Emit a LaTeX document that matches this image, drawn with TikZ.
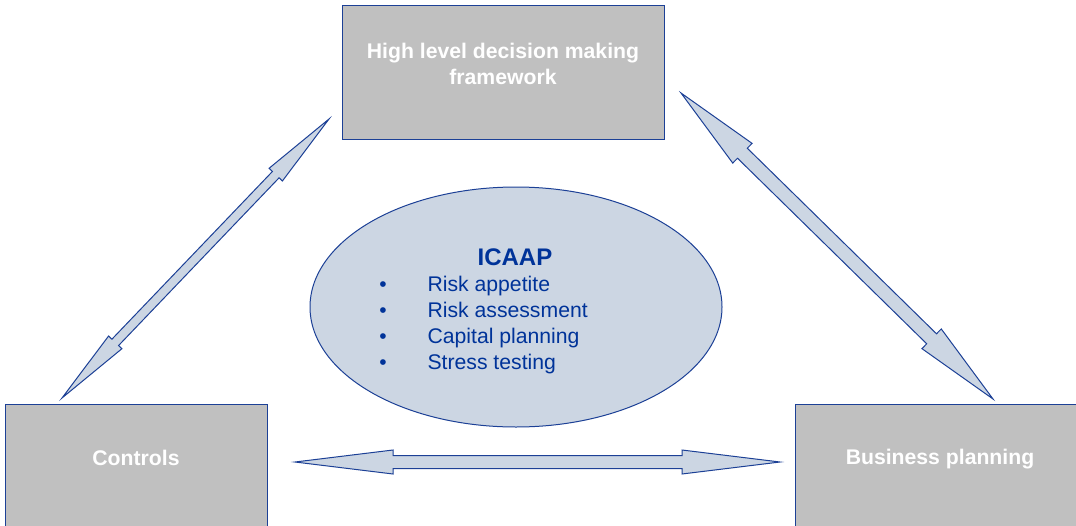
\documentclass[tikz,border=0pt]{standalone}
\usepackage{fontspec}
\setmainfont{Liberation Sans}
\usetikzlibrary{calc,shapes.geometric}
\definecolor{boxgray}{RGB}{192,192,192}
\definecolor{edgeblue}{RGB}{28,64,150}
\definecolor{textblue}{RGB}{0,51,153}
\definecolor{paleblue}{RGB}{204,214,227}
\tikzset{
  box/.style={draw=edgeblue, line width=1pt, fill=boxgray, inner sep=0pt, minimum height=134pt},
  boxtext/.style={text=white, font=\fontsize{21.2}{26}\selectfont\bfseries, align=center},
  listtext/.style={text=textblue, font=\fontsize{21.2}{26}\selectfont, anchor=base west},
  dot/.style={text=textblue, font=\fontsize{21}{26}\selectfont, anchor=base},
  link/.style={draw=edgeblue, fill=paleblue, line width=1pt, line join=miter}
}
% #1,#2 tips, #3 head length, #4 half head width, #5 half shaft width
\newcommand{\fatarrow}[5]{%
  \draw[link] (#1)
    -- ($(#1)!#3!(#2)!#4!90:(#2)$)
    -- ($(#1)!#3!(#2)!#5!90:(#2)$)
    -- ($(#2)!#3!(#1)!#5!-90:(#1)$)
    -- ($(#2)!#3!(#1)!#4!-90:(#1)$)
    -- (#2)
    -- ($(#2)!#3!(#1)!#4!90:(#1)$)
    -- ($(#2)!#3!(#1)!#5!90:(#1)$)
    -- ($(#1)!#3!(#2)!#5!-90:(#2)$)
    -- ($(#1)!#3!(#2)!#4!-90:(#2)$)
    -- cycle;}
\begin{document}
\begin{tikzpicture}[x=1pt, y=-1pt]
\useasboundingbox (0,0) rectangle (1076,525);
\clip (0,0) rectangle (1076,525);

\node[box, minimum width=322pt] (hl) at (503,72) {};
\node[box, minimum width=262pt] (ctl) at (136,471) {};
\node[box, minimum width=290pt] (bp) at (940,471) {};
\node[boxtext] (hlt) at (503,64) {High level decision making\\framework};
\node[boxtext] (ctlt) at (136,458) {Controls};
\node[boxtext] (bpt) at (940,459) {Business planning};

\node[ellipse, draw=edgeblue, line width=1pt, fill=paleblue, minimum width=412pt, minimum height=240pt, inner sep=0pt] (ic) at (516,307) {};
\node[text=textblue, font=\fontsize{24}{28}\selectfont\bfseries, anchor=base] (ict) at (515,265) {ICAAP};
\node[dot] (d1) at (383,291) {•};
\node[dot] (d2) at (383,317) {•};
\node[dot] (d3) at (383,343) {•};
\node[dot] (d4) at (383,369) {•};
\node[listtext] (i1) at (424,291) {Risk appetite};
\node[listtext] (i2) at (424,317) {Risk assessment};
\node[listtext] (i3) at (424,343) {Capital planning};
\node[listtext] (i4) at (424,369) {Stress testing};

\coordinate (l1) at (329,119);
\coordinate (l2) at (62,398);
\coordinate (r1) at (681,93);
\coordinate (r2) at (993,399);
\coordinate (h1) at (295,462);
\coordinate (h2) at (780,462);

\fatarrow{l1}{l2}{77pt}{9.2pt}{4.6pt}
\fatarrow{r1}{r2}{86pt}{13.8pt}{7pt}
\fatarrow{h1}{h2}{98pt}{12pt}{6.5pt}
\end{tikzpicture}
\end{document}
